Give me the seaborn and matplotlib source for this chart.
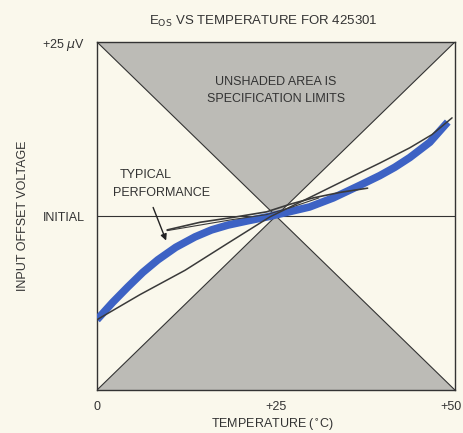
import matplotlib
matplotlib.use("Agg")
import matplotlib.pyplot as plt
import matplotlib.transforms as mtransforms
import seaborn as sns
import pandas as pd

# ── Data ──────────────────────────────────────────
X_TICKS = [0, 25, 50]
X_TICK_LABELS = ["0", "+25", "+50"]
Y_TICKS = [0, 25]
Y_TICK_LABELS = ["INITIAL", "+25 $\\mu$V"]

# shaded limit triangles (temperature, offset)
TOP_TRI_T = [0, 50, 25]
TOP_TRI_V = [25, 25, 0]
BOT_TRI_T = [0, 50, 25]
BOT_TRI_V = [-25, -25, 0]

# typical performance (thick blue)
BLUE_T = [0, 2.2, 4.3, 6.4, 8.5, 11, 13.7, 16, 18.3, 21, 23.9, 26.8, 29.7,
          33, 36.7, 39.5, 41.6, 43.7, 46.5, 49.0]
BLUE_V = [-14.9, -12.4, -10.2, -8.1, -6.3, -4.5, -3.0, -2.0, -1.3, -0.7,
          -0.1, 0.6, 1.3, 2.6, 4.4, 5.8, 7.0, 8.4, 10.6, 13.5]

# thin black traces
LINE_A_T = [0, 6, 12.3, 18.3, 24.2, 30, 36.7, 39.5, 43.7, 46.8, 49.6]
LINE_A_V = [-14.9, -11.3, -7.8, -3.9, -0.1, 2.8, 6.2, 7.6, 9.8, 11.7, 14.1]
LINE_B1_T = [9.8, 14.4, 19, 23.7, 27, 30.2, 34, 37.8]
LINE_B1_V = [-2.0, -0.9, -0.2, 0.6, 1.7, 2.6, 3.4, 4.0]
LINE_B2_T = [9.8, 14.4, 19, 23.7, 27, 31]
LINE_B2_V = [-2.1, -1.3, -0.5, 0.2, 1.2, 2.6]

BG = "#faf8ec"
GRAY = "#bcbbb6"
INK = "#333333"
BLUE = "#3d62c4"

sns.set_style("white")
plt.rcParams["font.family"] = ["Liberation Sans", "DejaVu Sans"]

fig = plt.figure(figsize=(4.63, 4.33), dpi=100)
fig.patch.set_facecolor(BG)
ax = fig.add_axes([0.2095, 0.0993, 0.773, 0.8037])
ax.set_facecolor(BG)

# ── shaded spec-limit triangles ───────────────────
ax.fill(TOP_TRI_T, TOP_TRI_V, color=GRAY, zorder=1, lw=0)
ax.fill(BOT_TRI_T, BOT_TRI_V, color=GRAY, zorder=1, lw=0)
ax.plot([0, 50], [25, -25], color=INK, lw=0.8, zorder=2)
ax.plot([0, 50], [-25, 25], color=INK, lw=0.8, zorder=2)
ax.axhline(0, color=INK, lw=0.8, zorder=2)

# ── curves ────────────────────────────────────────
blue = pd.DataFrame({"t": BLUE_T, "v": BLUE_V})
sns.lineplot(data=blue, x="t", y="v", color=BLUE, lw=5.5, sort=False,
             ax=ax, zorder=3, solid_capstyle="butt", solid_joinstyle="round")
for tt, vv, lw in [(LINE_A_T, LINE_A_V, 1.1),
                   (LINE_B1_T, LINE_B1_V, 1.2),
                   (LINE_B2_T, LINE_B2_V, 0.8)]:
    sns.lineplot(x=tt, y=vv, color="#3a3a3a", lw=lw, sort=False,
                 ax=ax, zorder=4, solid_joinstyle="round")

# ── annotations ───────────────────────────────────
ax.text(25, 18.0, "UNSHADED AREA IS\nSPECIFICATION LIMITS", ha="center",
        va="center", fontsize=9, color=INK, linespacing=1.55, zorder=5)
ax.text(3.2, 5.9, "TYPICAL", ha="left", va="center", fontsize=9,
        color=INK, zorder=5)
ax.text(2.2, 3.3, "PERFORMANCE", ha="left", va="center", fontsize=9,
        color=INK, zorder=5)
ax.annotate("", xy=(9.8, -3.9), xytext=(7.7, 1.6),
            arrowprops=dict(arrowstyle="-|>", color="#222222", lw=1.0,
                            mutation_scale=9), zorder=5)

# ── axes styling ──────────────────────────────────
ax.set_xlim(0, 50)
ax.set_ylim(-25, 25)
ax.set_xticks(X_TICKS)
ax.set_xticklabels(X_TICK_LABELS)
ax.set_yticks(Y_TICKS)
ax.set_yticklabels(Y_TICK_LABELS)
ax.tick_params(length=0, labelsize=9, colors=INK, pad=8)
ax.tick_params(axis="y", pad=9)
# the "+50" label sits right at the figure edge
last = ax.get_xticklabels()[-1]
last.set_transform(last.get_transform()
                   + mtransforms.ScaledTranslation(-4 / 100, 0, fig.dpi_scale_trans))
for s in ax.spines.values():
    s.set_color(INK)
    s.set_linewidth(1.0)
    s.set_visible(True)

ax.set_xlabel("TEMPERATURE ($^{\\circ}$C)", fontsize=9, color=INK)
ax.xaxis.set_label_coords(0.49, -0.078)
ax.set_ylabel("INPUT OFFSET VOLTAGE", fontsize=9, color=INK)
ax.yaxis.set_label_coords(-0.19, 0.5)
ax.set_title("E$_{\\rm OS}$ VS TEMPERATURE FOR 425301", fontsize=9.5,
             color=INK, pad=12, x=0.465)

fig.savefig("out.png", dpi=100, facecolor=BG)
